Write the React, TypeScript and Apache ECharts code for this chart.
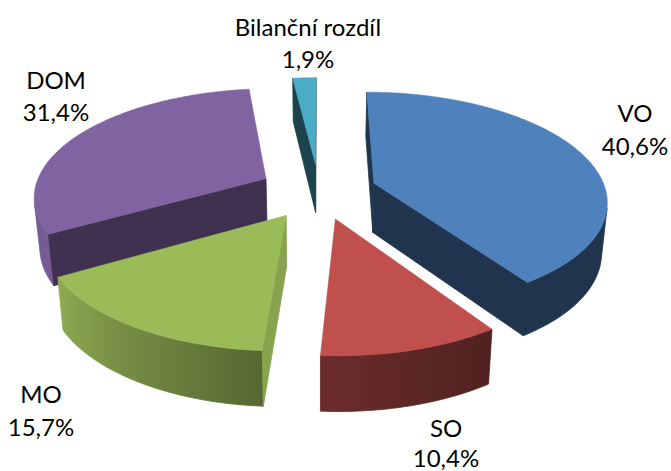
import React, { useEffect, useRef } from "react";
import * as echarts from "echarts";

const CATEGORIES = ["VO", "SO", "MO", "DOM", "Bilanční rozdíl"];
const VALUES = [40.6, 10.4, 15.7, 31.4, 1.9];
const COLORS = ["#4f81bd", "#c0504d", "#9bbb59", "#8064a2", "#4bacc6"];
const RADIAL_SHADE = [0.41, 0.45, 0.87, 0.49, 0.39];
const DRAW_RANK = [2, 4, 3, 1, 0];
const EXPLODE = [0.25, 0.26, 0.26, 0.26, 0.26];
// x, y of the first line, y of the second line
const LABEL_AT = [
  [635, 112, 145],
  [446, 427, 457],
  [41, 393, 426],
  [56, 79, 111],
  [308, 26, 58],
];

// Shading of the outer wall by angle (degrees clockwise from the top)
const WALL_STOPS = [
  [0, 0.41],
  [146, 0.41],
  [184, 0.56],
  [240, 0.92],
  [280, 0.85],
  [360, 0.6],
];

const CX = 319;
const CY = 191;
const RX = 232;
const RY = 107;
const PERSP = 0.15;

function project(u: number, v: number, z: number) {
  const s = 1 / (1 - PERSP * v);
  let x = CX + RX * u * s;
  let y = CY + RY * v * s;
  if (z) {
    x = CX + (x - CX) * 0.98;
    y += 49.5 + 5 * v;
  }
  return [x, y];
}

function wallShade(deg: number) {
  for (let i = 1; i < WALL_STOPS.length; i++) {
    const [a0, s0] = WALL_STOPS[i - 1];
    const [a1, s1] = WALL_STOPS[i];
    if (deg <= a1) return s0 + ((s1 - s0) * (deg - a0)) / (a1 - a0);
  }
  return 0.6;
}

function shade(hex: string, k: number) {
  const n = parseInt(hex.slice(1), 16);
  const c = [(n >> 16) & 255, (n >> 8) & 255, n & 255].map((p) => Math.round(p * k));
  return `rgb(${c[0]},${c[1]},${c[2]})`;
}

function area(pts: number[][]) {
  let a = 0;
  for (let i = 0; i < pts.length; i++) {
    const p = pts[i];
    const q = pts[(i + 1) % pts.length];
    a += p[0] * q[1] - q[0] * p[1];
  }
  return a;
}

const percent = (v: number) => v.toFixed(1).replace(".", ",") + "%";

function renderItem(params: any, api: any) {
  const i = params.dataIndex;
  const value = api.value(0);
  const total = VALUES.reduce((a, b) => a + b, 0);
  const before = VALUES.slice(0, i).reduce((a, b) => a + b, 0);
  const t0 = (before / total) * 360;
  const t1 = t0 + (value / total) * 360;
  const mid = (((t0 + t1) / 2) * Math.PI) / 180;
  const u0 = EXPLODE[i] * Math.sin(mid);
  const v0 = -EXPLODE[i] * Math.cos(mid);
  const color = COLORS[i];
  const base = (DRAW_RANK[i] + 1) * 1000;

  const rim = (deg: number, z: number) => {
    const r = (deg * Math.PI) / 180;
    return project(u0 + Math.sin(r), v0 - Math.cos(r), z);
  };
  const apex = (z: number) => project(u0, v0, z);

  const children: any[] = [];
  const face = (a: number[][], fill: string, z2: number) => {
    if (area(a) < 0) {
      children.push({
        type: "polygon",
        z2,
        shape: { points: a },
        style: { fill, stroke: fill, lineWidth: 0.8 },
      });
    }
  };

  const steps = Math.max(2, Math.ceil(t1 - t0));

  // The part of the outer wall that faces the viewer, as one shape with a gradient
  const upper: number[][] = [];
  const lower: number[][] = [];
  const angles: number[] = [];
  for (let k = 0; k < steps; k++) {
    const a = t0 + ((t1 - t0) * k) / steps;
    const b = t0 + ((t1 - t0) * (k + 1)) / steps;
    if (area([rim(a, 0), rim(b, 0), rim(b, 1), rim(a, 1)]) < 0) {
      if (!angles.length) {
        angles.push(a);
        upper.push(rim(a, 0));
        lower.push(rim(a, 1));
      }
      angles.push(b);
      upper.push(rim(b, 0));
      lower.push(rim(b, 1));
    }
  }
  if (angles.length) {
    const xs = upper.map((p) => p[0]);
    const x0 = Math.min(...xs);
    const x1 = Math.max(...xs);
    const stride = Math.max(1, Math.floor(angles.length / 12));
    const stops: { offset: number; color: string }[] = [];
    angles.forEach((a, k) => {
      if (k % stride === 0 || k === angles.length - 1) {
        stops.push({
          offset: Math.min(1, Math.max(0, (xs[k] - x0) / (x1 - x0 || 1))),
          color: shade(color, wallShade(a)),
        });
      }
    });
    stops.sort((p, q) => p.offset - q.offset);
    const fill = { type: "linear", x: x0, y: 0, x2: x1, y2: 0, global: true, colorStops: stops };
    children.push({
      type: "polygon",
      z2: base + 1,
      shape: { points: upper.concat(lower.slice().reverse()) },
      style: { fill, stroke: fill, lineWidth: 0.8 },
    });
  }

  const sideFill = shade(color, RADIAL_SHADE[i]);
  face([apex(0), rim(t0, 0), rim(t0, 1), apex(1)], sideFill, base + 2);
  face([rim(t1, 0), apex(0), apex(1), rim(t1, 1)], sideFill, base + 2);

  const top: number[][] = [apex(0)];
  for (let k = 0; k <= steps; k++) top.push(rim(t0 + ((t1 - t0) * k) / steps, 0));
  children.push({
    type: "polygon",
    z2: base + 3,
    shape: { points: top },
    style: { fill: color, stroke: color, lineWidth: 0.5 },
  });

  const lines = [CATEGORIES[i], percent(value)];
  lines.forEach((text, k) => {
    children.push({
      type: "text",
      z2: 9000,
      x: LABEL_AT[i][0],
      y: LABEL_AT[i][k + 1],
      style: {
        text,
        fill: "#000000",
        font: '24px Lato, "Open Sans", sans-serif',
        align: "center",
        verticalAlign: "middle",
      },
    });
  });

  return { type: "group", children };
}

export default function App() {
  const ref = useRef<HTMLDivElement>(null);
  useEffect(() => {
    document.body.style.margin = "0";
    const chart = echarts.init(ref.current!, undefined, { renderer: "svg" });
    chart.setOption({
      animation: false,
      backgroundColor: "#ffffff",
      series: [
        {
          type: "custom",
          coordinateSystem: "none",
          renderItem,
          data: VALUES.map((v, i) => ({ name: CATEGORIES[i], value: [v] })),
        },
      ],
    });
    return () => chart.dispose();
  }, []);
  return <div ref={ref} style={{ width: 671, height: 471 }} />;
}
